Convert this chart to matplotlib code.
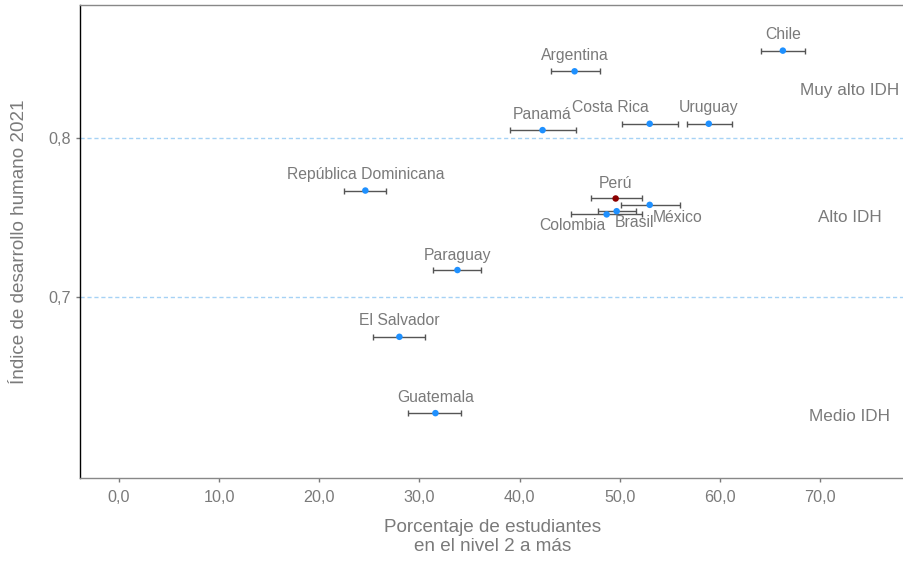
import matplotlib.pyplot as plt
import numpy as np

plt.rcParams['font.family'] = ['Liberation Sans', 'DejaVu Sans']

# data
countries = ["Chile", "Argentina", "Panamá", "Costa Rica", "Uruguay", "Perú",
             "México", "Brasil", "Colombia", "República Dominicana",
             "Paraguay", "El Salvador", "Guatemala"]
pct = [66.3, 45.5, 42.3, 53.0, 58.9, 49.6, 53.0, 49.7, 48.7, 24.6, 33.8, 28.0, 31.6]
pct_lo = [64.1, 43.1, 39.0, 50.2, 56.7, 47.1, 50.1, 47.8, 45.1, 22.5, 31.4, 25.4, 28.9]
pct_hi = [68.5, 48.0, 45.6, 55.8, 61.2, 52.2, 56.0, 51.6, 52.2, 26.7, 36.2, 30.6, 34.2]
idh = [0.855, 0.842, 0.805, 0.809, 0.809, 0.762, 0.758, 0.754, 0.752, 0.767,
       0.717, 0.675, 0.627]
# label offsets in pixels (dx, dy)
offsets = [(0, 16), (0, 16), (0, 16), (-39, 16), (0, 16), (0, 15),
           (28, -13), (18, -11), (-34, -11), (0, 16), (0, 15), (0, 16), (0, 16)]

regions = ["Muy alto IDH", "Alto IDH", "Medio IDH"]
region_y = [0.83, 0.75, 0.625]
thresholds = [0.8, 0.7]

x = np.array(pct)
y = np.array(idh)
err = np.array([x - np.array(pct_lo), np.array(pct_hi) - x])

fig = plt.figure(figsize=(9.04, 5.62), dpi=100)
ax = fig.add_axes([80 / 904, 1 - 478 / 562, 825 / 904, 473 / 562])

for t in thresholds:
    ax.axhline(t, color="#a6d2f5", lw=1, ls=(0, (3, 2)), zorder=1)

ax.errorbar(x, y, xerr=err, fmt="none", ecolor="#555555", elinewidth=1,
            capsize=2.5, capthick=1, zorder=2)
colors = ["#8B0000" if c == "Perú" else "#1E90FF" for c in countries]
ax.scatter(x, y, s=22, c=colors, zorder=3, linewidths=0)

for c, xi, yi, (dx, dy) in zip(countries, x, y, offsets):
    ax.annotate(c, (xi, yi), xytext=(dx * 0.72, dy * 0.72), textcoords="offset points",
                ha="center", va="center", fontsize=11.3, color="#7a7a7a")

for r, ry in zip(regions, region_y):
    ax.text(73, ry, r, ha="center", va="center", fontsize=12.3, color="#7a7a7a")

ax.set_xlim(-3.9, 78.5)
ax.set_ylim(0.5862, 0.8837)
ax.set_xticks(np.arange(0, 80, 10))
ax.set_xticklabels([f"{v:.1f}".replace(".", ",") for v in np.arange(0, 80, 10)])
ax.set_yticks([0.7, 0.8])
ax.set_yticklabels(["0,7", "0,8"])
ax.tick_params(colors="#7a7a7a", labelsize=11.6, length=3, width=1)
ax.tick_params(axis="x", pad=6)

ax.spines["left"].set_color("black")
ax.spines["top"].set_color("#888888")
ax.spines["bottom"].set_color("#888888")
ax.spines["right"].set_visible(False)
for s in ax.spines.values():
    s.set_linewidth(1)

ax.set_xlabel("Porcentaje de estudiantes\nen el nivel 2 a más", fontsize=13.6,
              color="#7a7a7a", labelpad=10, linespacing=1.1)
ax.set_ylabel("Índice de desarrollo humano 2021", fontsize=13.6, color="#7a7a7a",
              labelpad=15)

fig.savefig("out.png", dpi=100)
